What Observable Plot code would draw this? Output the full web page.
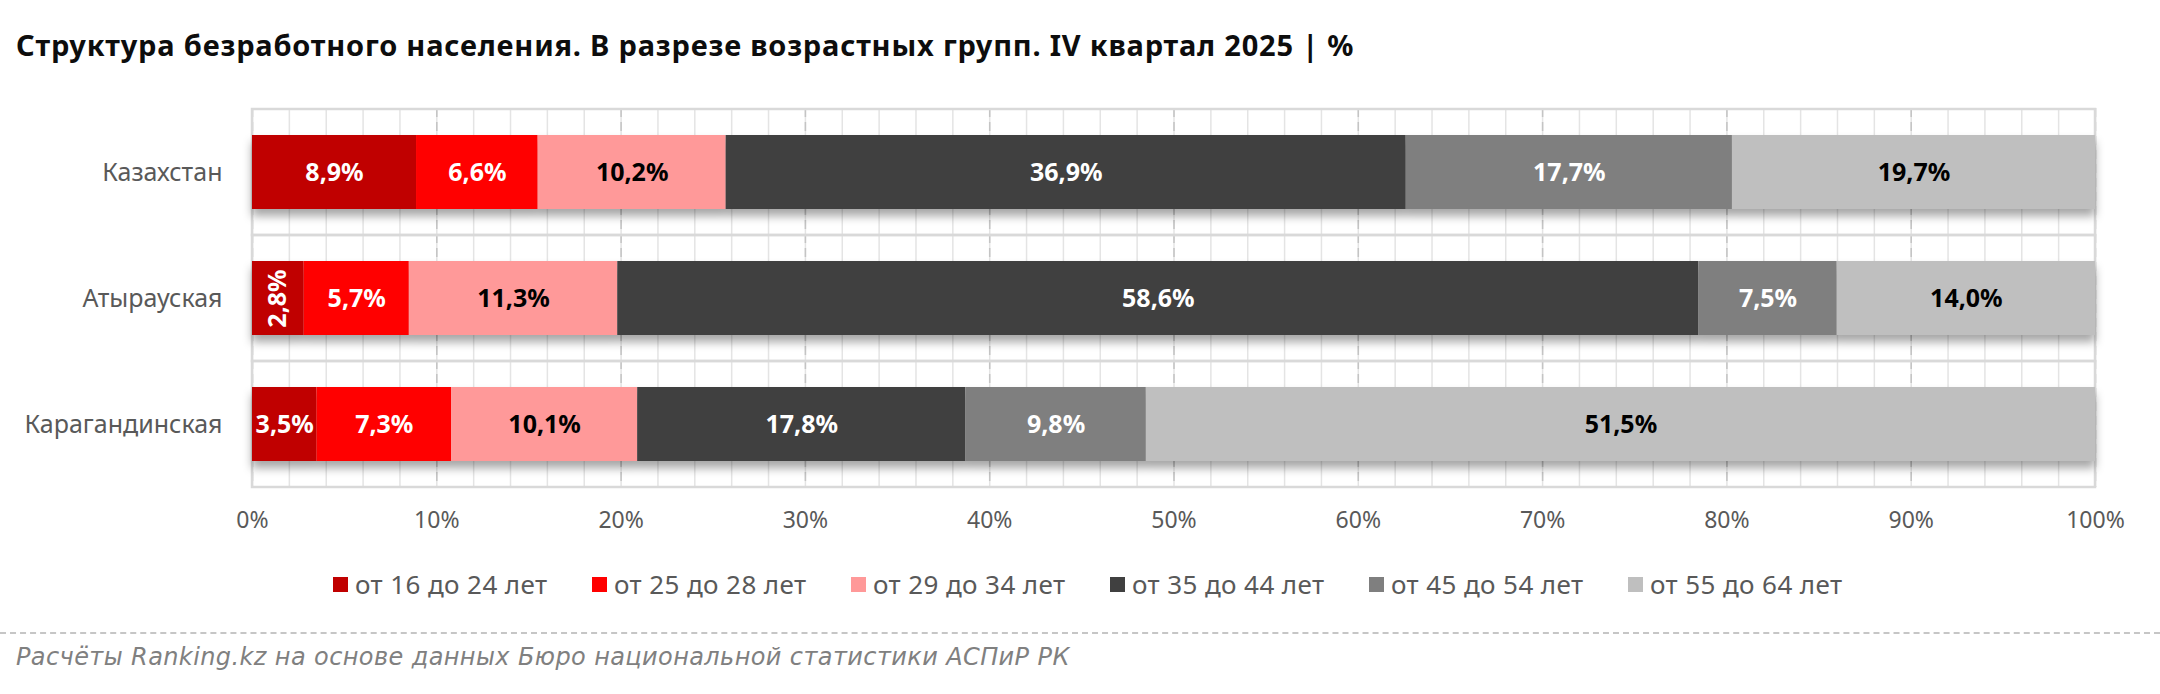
<!DOCTYPE html>
<html><head><meta charset="utf-8">
<script src="https://cdn.jsdelivr.net/npm/d3@7"></script>
<script src="https://cdn.jsdelivr.net/npm/@observablehq/plot@0.6"></script>
<style>
html,body{margin:0;padding:0;background:#fff;width:2160px;height:694px;overflow:hidden;position:relative;font-family:"Noto Sans",sans-serif}
#title{position:absolute;left:16px;top:26px;font-weight:700;font-size:29px;letter-spacing:0.8px;color:#0d0d0d;white-space:nowrap;line-height:38px}
#chart{position:absolute;left:0;top:90px}
#legend{position:absolute;left:333px;top:569px;display:flex}
.item{display:flex;align-items:center;width:259px;font-size:26px;letter-spacing:0.4px;color:#595959;line-height:30px;white-space:nowrap}
.sw{width:15px;height:15px;margin-right:7px;flex:none}
#sep{position:absolute;left:0;top:632px;width:2160px;border-top:2px dashed #c6c6c6}
#caption{position:absolute;left:16px;top:642px;font-family:"DejaVu Sans",sans-serif;font-style:italic;font-size:24px;letter-spacing:0.4px;color:#808080;line-height:30px;white-space:nowrap}
</style>
</head><body>
<div id="title">Структура безработного населения. В разрезе возрастных групп. IV квартал 2025 | %</div>
<div id="chart"></div>
<div id="legend"></div>
<div id="sep"></div>
<div id="caption">Расчёты Ranking.kz на основе данных Бюро национальной статистики АСПиР РК</div>
<script>
const regions = ["Казахстан", "Атырауская", "Карагандинская"];
const ageGroups = ["от 16 до 24 лет", "от 25 до 28 лет", "от 29 до 34 лет", "от 35 до 44 лет", "от 45 до 54 лет", "от 55 до 64 лет"];
const colors = ["#C00000", "#FF0000", "#FF9999", "#404040", "#7F7F7F", "#BFBFBF"];
const labelColors = ["#ffffff", "#ffffff", "#000000", "#ffffff", "#ffffff", "#000000"];
const kazakhstan = [8.9, 6.6, 10.2, 36.9, 17.7, 19.7];
const atyrau = [2.8, 5.7, 11.3, 58.6, 7.5, 14.0];
const karaganda = [3.5, 7.3, 10.1, 17.8, 9.8, 51.5];
const majorTicks = [0, 0.1, 0.2, 0.3, 0.4, 0.5, 0.6, 0.7, 0.8, 0.9, 1];
const minorTicks = d3.range(0, 51).map(i => i / 50);

const series = [kazakhstan, atyrau, karaganda];
const rows = regions.flatMap((r, i) => series[i].map((v, j) => ({region: r, age: ageGroups[j], idx: j, value: v})));
const fmt = v => d3.format(".1f")(v).replace(".", ",") + "%";

const chart = Plot.plot({
  width: 2160, height: 450,
  marginLeft: 252, marginRight: 65, marginTop: 18, marginBottom: 53,
  style: {fontFamily: '"Noto Sans", sans-serif', background: "transparent", overflow: "visible"},
  x: {domain: [0, 1]},
  y: {domain: regions, padding: 0},
  color: {domain: ageGroups, range: colors},
  marks: [
    Plot.ruleX(minorTicks, {stroke: "#e4e4e4", strokeWidth: 1.5}),
    Plot.ruleX(majorTicks, {stroke: "#c4c4c4", strokeWidth: 1.5, strokeDasharray: "9,5"}),
    Plot.barX(regions, {x1: 0, x2: 1, y: d => d, fill: "none", stroke: "#d9d9d9", strokeWidth: 2.5}),
    Plot.barX(rows, Plot.stackX({x: "value", y: "region", z: "age", fill: "age", offset: "normalize", insetTop: 26, insetBottom: 26})),
    Plot.text(rows, Plot.stackX({
      x: "value", y: "region", z: "age", offset: "normalize",
      text: d => fmt(d.value),
      fill: d => labelColors[d.idx],
      rotate: d => d.value < 3 ? -90 : 0,
      fontSize: 25, fontWeight: "bold"
    })),
    Plot.axisX({ticks: majorTicks, tickSize: 0, tickPadding: 24, tickFormat: d3.format(".0%"), fontSize: 23, color: "#595959", label: null}),
    Plot.axisY({tickSize: 0, tickPadding: 30, fontSize: 25, color: "#595959", label: null})
  ]
});

const ns = "http://www.w3.org/2000/svg";
const defs = document.createElementNS(ns, "defs");
defs.innerHTML = '<filter id="sh" x="-5%" y="-30%" width="110%" height="180%"><feDropShadow dx="0" dy="7" stdDeviation="5" flood-color="#000" flood-opacity="0.35"/></filter>';
chart.prepend(defs);
const barGroups = [...chart.querySelectorAll('g[aria-label="bar"]')];
if (barGroups.length) barGroups[barGroups.length - 1].setAttribute("filter", "url(#sh)");
document.getElementById("chart").appendChild(chart);

const legend = document.getElementById("legend");
ageGroups.forEach((g, i) => {
  const it = document.createElement("div");
  it.className = "item";
  it.innerHTML = `<span class="sw" style="background:${colors[i]}"></span><span>${g}</span>`;
  legend.appendChild(it);
});
</script>
</body></html>
